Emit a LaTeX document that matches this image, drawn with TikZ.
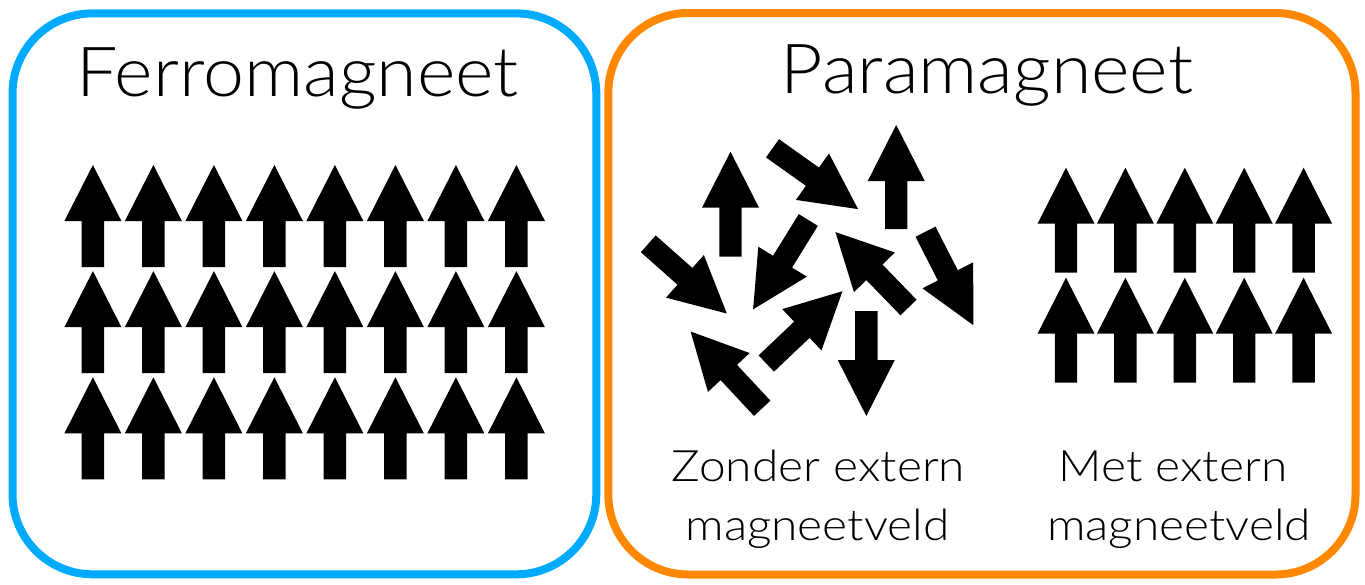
\documentclass[tikz,border=0pt]{standalone}
\usepackage{graphicx}
\usepackage{fontspec}
\setmainfont{Lato}[UprightFont={* Light}]
\definecolor{ferroblue}{HTML}{00AAFF}
\definecolor{paraorange}{HTML}{FF8800}
\newcommand{\widetitle}[1]{\scalebox{1.066}[1]{#1}}
\newcommand{\widecap}[1]{\scalebox{1.105}[1]{#1}}
\tikzset{
  pics/magarr/.style={code={
    \fill[black] (0,-11.2) -- ({#1-56},-11.2) -- ({#1-56},-28.5) -- (#1,0)
      -- ({#1-56},28.5) -- ({#1-56},11.2) -- (0,11.2) -- cycle;}},
  panel/.style={line width=8pt, rounded corners=80pt},
  title/.style={inner sep=0pt, anchor=base, font=\fontsize{69}{80}\selectfont},
  caption/.style={inner sep=0pt, anchor=base, font=\fontsize{43.3}{50}\selectfont}
}
\begin{document}
\begin{tikzpicture}[x=1pt,y=-1pt]
\useasboundingbox (0,0) rectangle (1365,584);
\fill[white] (0,0) rectangle (1365,584);
% panels
\draw[panel, ferroblue] (12.5,13.4) rectangle (596.3,574.3);
\draw[panel, paraorange] (608.3,13) rectangle (1355.5,574.5);
% titles
\node[title] (ferro) at (297.5,96) {\widetitle{Ferromagneet}};
\node[title] (para) at (987,93) {\widetitle{Paramagneet}};
% ferromagnet grid
\foreach \i in {0,...,7}
  \foreach \t in {165,271.1,377.3}
    \pic[rotate=90] at ({92.9+60.5*\i},{\t+102}) {magarr=102};
% paramagnet with field
\foreach \j in {0,...,4}
  \foreach \t in {167.7,277.7}
    \pic[rotate=90] at ({1066+59.4*\j},{\t+105}) {magarr=105};
% paramagnet without field (random)
\pic[rotate=90]     at (730.5,256.7) {magarr=105};
\pic[rotate=90]     at (896.2,229)   {magarr=104};
\pic[rotate=-90]    at (866.3,311)   {magarr=105};
\pic[rotate=-35.4]  at (772.5,148.3) {magarr=105};
\pic[rotate=-41.6]  at (648.3,243.8) {magarr=105};
\pic[rotate=-121.7] at (808.3,220)   {magarr=105};
\pic[rotate=134.1]  at (908.5,307.5) {magarr=105};
\pic[rotate=-62.9]  at (925.5,231.7) {magarr=105};
\pic[rotate=43.5]   at (766.3,363.5) {magarr=105};
\pic[rotate=133]    at (762.2,408.3) {magarr=105};
% captions
\node[caption] (zonder1) at (818.5,481.7) {\widecap{Zonder extern}};
\node[caption] (zonder2) at (817.5,540) {\widecap{magneetveld}};
\node[caption] (met1) at (1173,481.7) {\widecap{Met extern}};
\node[caption] (met2) at (1179,540) {\widecap{magneetveld}};
\end{tikzpicture}
\end{document}
